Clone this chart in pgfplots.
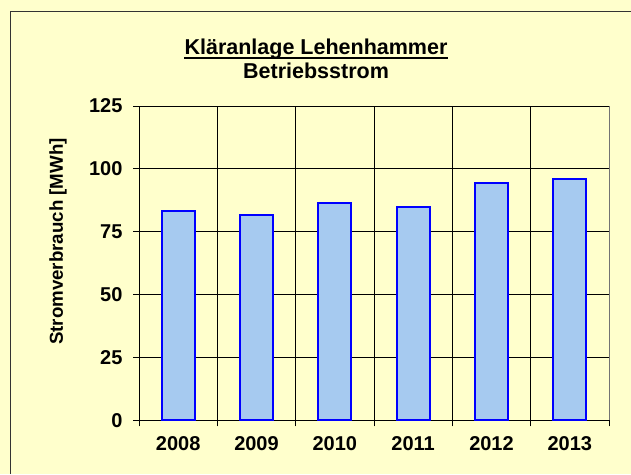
\documentclass[border=0pt]{standalone}
\usepackage{pgfplots}
\pgfplotsset{compat=1.18}
\usepackage{fontspec}
\setmainfont{Liberation Sans}
\definecolor{bg}{HTML}{FFFFCC}
\definecolor{barfill}{HTML}{A6CAF0}
\begin{document}
\begin{tikzpicture}[x=1pt,y=1pt]
\fill[bg] (0,0) rectangle (631,474);
\useasboundingbox (0,0) rectangle (631,474);
\draw[black!80, line width=1pt] (10.5,0) -- (10.5,462) -- (631,462);
\node[font=\bfseries\fontsize{21.5}{24}\selectfont, anchor=base, inner sep=0pt] (t1) at (316,419) {Kläranlage Lehenhammer};
\draw[line width=1.4pt] ([yshift=-3.2pt]t1.base west) -- ([yshift=-3.2pt]t1.base east);
\node[font=\bfseries\fontsize{21.5}{24}\selectfont, anchor=base, inner sep=0pt] at (316,395) {Betriebsstrom};
\node[font=\bfseries\fontsize{18.7}{20}\selectfont, rotate=90, inner sep=0pt] at (58,232.5) {Stromverbrauch [MWh]};
\begin{axis}[
  at={(139pt,53.7pt)}, anchor=south west,
  scale only axis, width=470pt, height=314.3pt,
  xmin=-0.5, xmax=5.5, ymin=0, ymax=125,
  axis x line*=bottom, axis y line*=left,
  axis line style={line width=1pt, black},
  ybar, bar width=33pt,
  xtick={0,1,2,3,4,5},
  xticklabels={2008,2009,2010,2011,2012,2013},
  major x tick style={draw=none},
  minor xtick={-0.5,0.5,1.5,2.5,3.5,4.5,5.5},
  xminorgrids, minor x grid style={black, line width=0.9pt},
  minor tick length=6pt,
  ytick={0,25,50,75,100,125},
  ymajorgrids, major y grid style={black, line width=0.9pt},
  major tick length=6pt,
  tick align=outside,
  tick style={black, line width=0.9pt},
  /pgf/number format/assume math mode=true,
  ticklabel style={font=\bfseries\fontsize{20}{22}\selectfont},
  xticklabel style={yshift=-7pt},
  yticklabel style={xshift=-7pt},
  clip=false,
]
\addplot[fill=barfill, draw=blue, line width=1.9pt] coordinates {(0,83.1) (1,81.8) (2,86.4) (3,84.7) (4,94.3) (5,95.8)};
\draw[black!55, line width=1pt] (rel axis cs:1,0) -- (rel axis cs:1,1);
\end{axis}
\end{tikzpicture}
\end{document}
